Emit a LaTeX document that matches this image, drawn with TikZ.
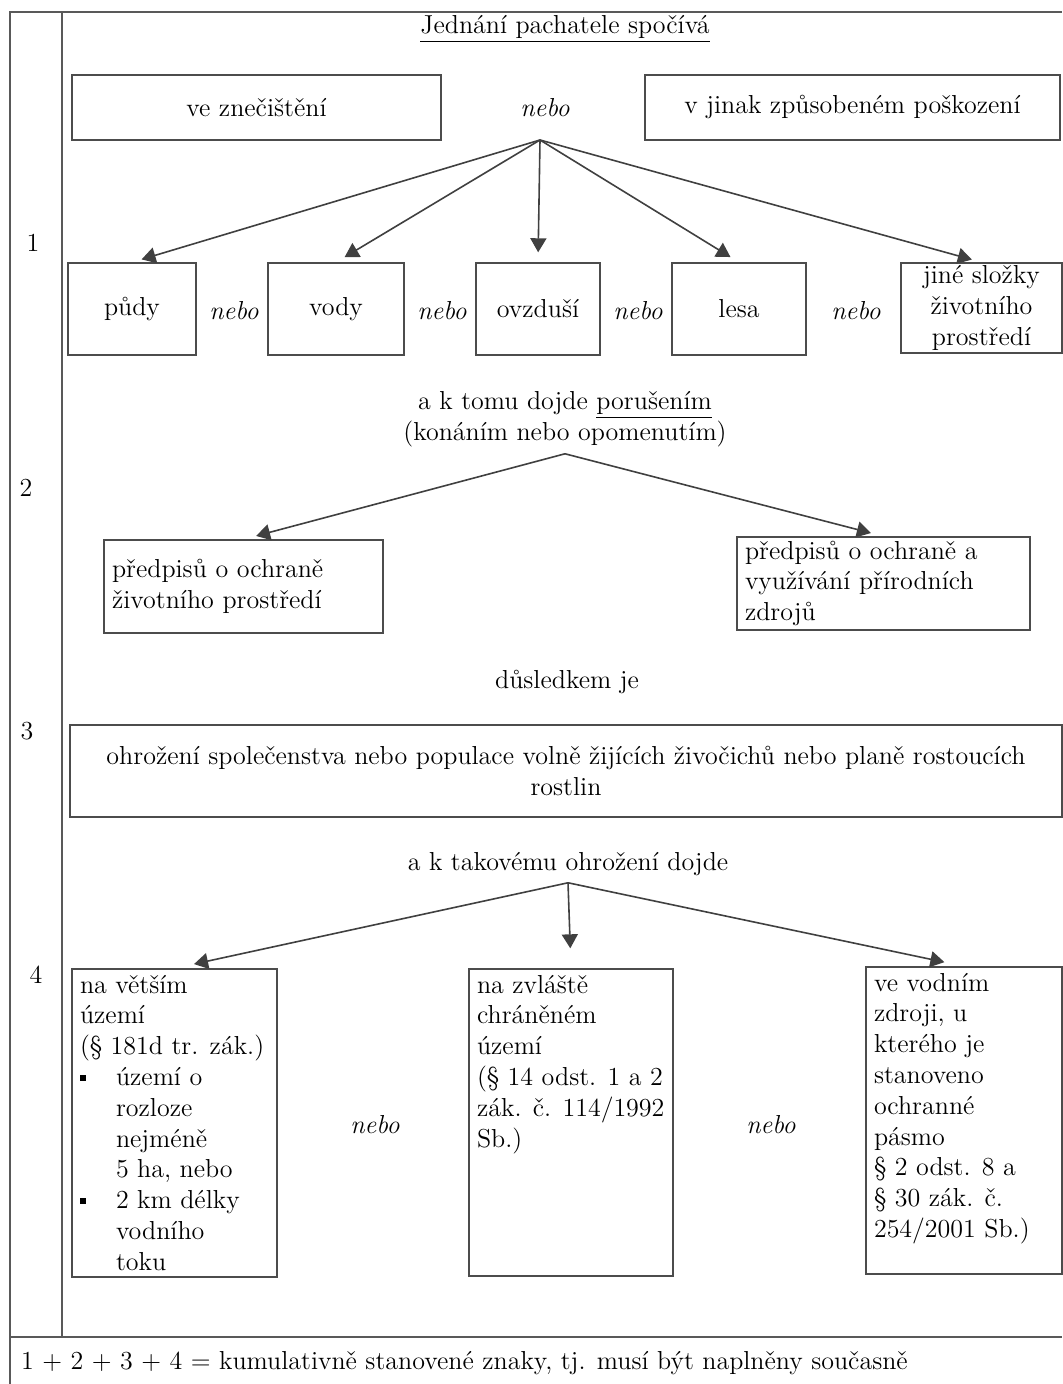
\documentclass[tikz,border=0pt]{standalone}
\usepackage{fontspec}
\usepackage{tikz}
\usetikzlibrary{positioning, arrows.meta}
\newcommand{\sqb}{\makebox[18pt][l]{\raisebox{2.5pt}{\rule{3pt}{3pt}}}}
\newcommand{\ind}{\hspace*{18pt}}

\begin{document}
\begin{tikzpicture}[x=0.5pt, y=-0.5pt,
  every node/.style={font=\fontsize{13}{15.4}\selectfont},
  box/.style={draw=black!70, line width=0.7pt, inner sep=0pt, align=center},
  cell/.style={draw=black!70, line width=0.7pt, inner xsep=4pt, inner ysep=3pt},
  arr/.style={draw=black!75, line width=0.8pt, -{Triangle[length=7pt,width=8pt]}, shorten >=5pt},
  frm/.style={draw=black!65, line width=0.8pt}]
\useasboundingbox (0,0) rectangle (1062,1384);
% frame
\draw[frm] (10,1384) -- (10,12) -- (1062,12);
\draw[frm] (62,12) -- (62,1337);
\draw[frm] (10,1337) -- (1062,1337);
% numbers
\node (n1) at (33,243) {1};
\node (n2) at (26,488) {2};
\node (n3) at (27,731) {3};
\node (n4) at (36,975) {4};
% part 1
\node (titl) at (565,29) {\underline{Jednání pachatele spočívá}};
\node[box, minimum width=184.5pt, minimum height=32.5pt] (znec) at (256.5,107.5) {ve znečištění};
\node (nebo0) at (545,108) {\textit{nebo}};
\node[box, minimum width=207.5pt, minimum height=32.5pt] (posk) at (852.5,107.5) {v jinak způsobeném poškození};
\coordinate (split1) at (540,140);
\node[box, minimum width=64pt, minimum height=46pt] (pudy) at (132,309) {půdy};
\node[box, minimum width=68pt, minimum height=46pt] (vody) at (336,309) {vody};
\node[box, minimum width=62pt, minimum height=46pt] (ovzd) at (538,309) {ovzduší};
\node[box, minimum width=67pt, minimum height=46pt] (lesa) at (739,309) {lesa};
\node[box, minimum width=80.5pt, minimum height=45pt] (jine) at (981.5,308) {jiné složky\\ životního\\ prostředí};
\foreach \x/\n in {234/1, 442/2, 638/3, 856/4}
  \node (nebo\n) at (\x,311) {\textit{nebo}};
\foreach \t in {pudy, vody, ovzd, lesa, jine}
  \draw[arr] (split1) -- (\t.north);
% part 2
\node[align=center] (poru) at (565,419) {a k tomu dojde \underline{porušením}\\ (konáním nebo opomenutím)};
\node[box, minimum width=139.5pt, minimum height=46.5pt, text width=131.5pt, align=left] (predL) at (243.5,586.5) {předpisů o ochraně\\ životního prostředí};
\node[box, minimum width=146.5pt, minimum height=46.5pt, text width=138.5pt, align=left] (predR) at (883.5,583.5) {předpisů o ochraně a\\ využívání přírodních\\ zdrojů};
\draw[arr, shorten >=6.5pt] (poru.south) -- (predL.north);
\draw[arr, shorten >=6.5pt] (poru.south) -- (predR.north);
% part 3
\node (dusl) at (567,682) {důsledkem je};
\node[box, minimum width=496pt, minimum height=46pt] (ohro) at (566,771) {ohrožení společenstva nebo populace volně žijících živočichů nebo planě rostoucích\\ rostlin};
% part 4
\node (takv) at (568,864) {a k takovému ohrožení dojde};
\node[cell] (terA) at (174.5,1123) {\parbox[t][148pt][t]{94.5pt}{na větším\\ území\\ (§ 181d tr. zák.)\\ \sqb území o\\ \ind rozloze\\ \ind nejméně\\ \ind 5 ha, nebo\\ \sqb 2 km délky\\ \ind vodního\\ \ind toku}};
\node[cell] (terB) at (571,1122.5) {\parbox[t][147.5pt][t]{94pt}{na zvláště\\ chráněném\\ území\\ (§ 14 odst. 1 a 2\\ zák. č. 114/1992\\ Sb.)}};
\node[cell] (terC) at (964,1120.5) {\parbox[t][147.5pt][t]{90pt}{ve vodním\\ zdroji, u\\ kterého je\\ stanoveno\\ ochranné\\ pásmo\\ § 2 odst. 8 a\\ § 30 zák. č.\\ 254/2001 Sb.)}};
\node (nebo5) at (375,1125) {\textit{nebo}};
\node (nebo6) at (771,1125) {\textit{nebo}};
\foreach \t in {terA, terB, terC}
  \draw[arr, shorten >=10pt] (takv.south) -- (\t.north);
% summary
\node[anchor=west] (summ) at (14,1363) {1 + 2 + 3 + 4 = kumulativně stanovené znaky, tj. musí být naplněny současně};
\end{tikzpicture}
\end{document}
